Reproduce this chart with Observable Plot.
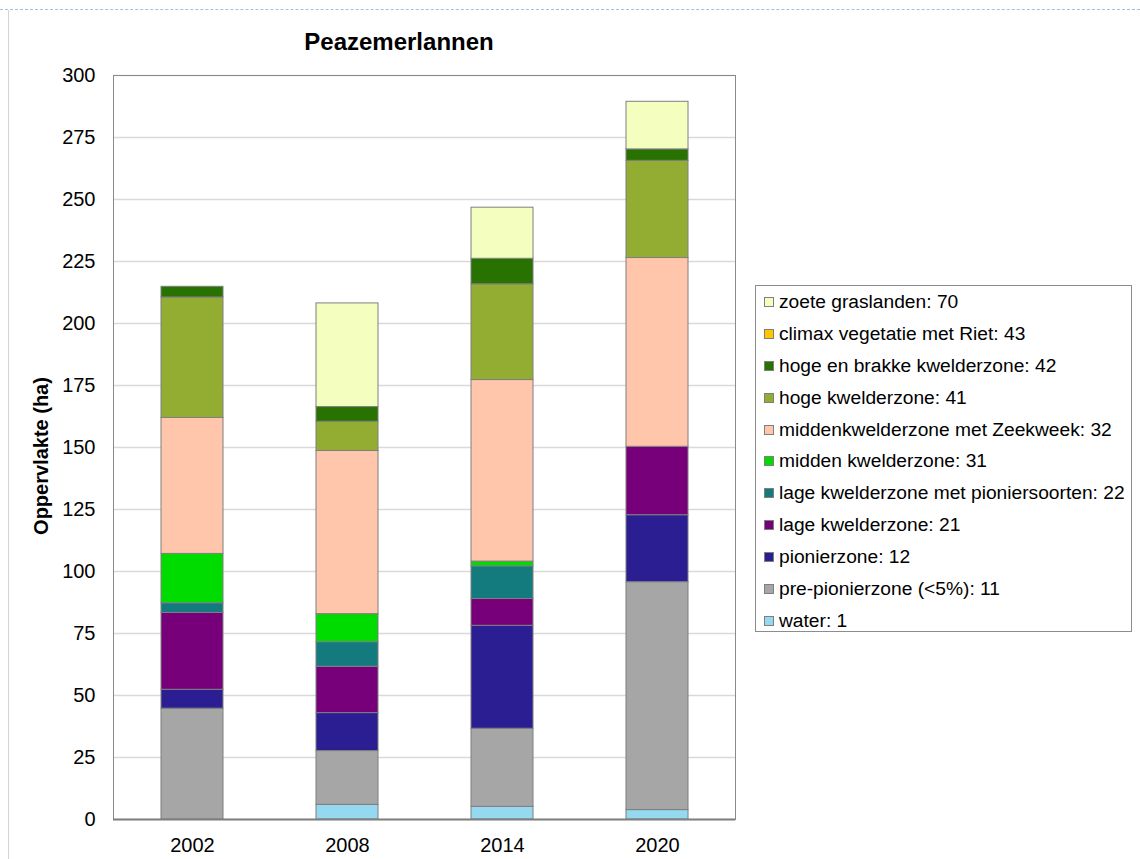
<!DOCTYPE html>
<html>
<head>
<meta charset="utf-8">
<script src="https://cdn.jsdelivr.net/npm/d3@7"></script>
<script src="https://cdn.jsdelivr.net/npm/@observablehq/plot@0.6"></script>
<style>
  body { margin: 0; background: #fff; font-family: "Liberation Sans", Arial, sans-serif; }
  #wrap { position: relative; width: 1140px; height: 859px; overflow: hidden; }
  #topline { position: absolute; left: 0; top: 9px; width: 1140px; border-top: 1px dashed #9cc6d6; }
  #leftline { position: absolute; left: 8px; top: 10px; height: 849px; border-left: 1px solid #d4d4d4; }
  #chart { position: absolute; left: 0; top: 0; }
  #title { position: absolute; left: 0; width: 798px; top: 28px; text-align: center; font-weight: bold; font-size: 24px; color: #000; }
  #ylabel { position: absolute; left: 41px; top: 456px; transform: translate(-50%, -50%) rotate(-90deg); font-weight: bold; font-size: 20px; white-space: nowrap; color: #000; }
  #legend { position: absolute; left: 755px; top: 285px; width: 377px; height: 347px; border: 1px solid #8c8c8c; box-sizing: border-box; }
  .row { height: 31.9px; line-height: 31.9px; font-size: 19.2px; white-space: nowrap; display: flex; align-items: center; padding-left: 8px; }
  .sw { width: 8px; height: 8px; border: 1px solid #7f7f7f; margin-right: 5px; flex: none; }
</style>
</head>
<body>
<div id="wrap">
  <div id="topline"></div>
  <div id="leftline"></div>
  <div id="chart"></div>
  <div id="title">Peazemerlannen</div>
  <div id="ylabel">Oppervlakte (ha)</div>
  <div id="legend"></div>
</div>
<script>
const years = ["2002", "2008", "2014", "2020"];
const categories = [
  "water: 1",
  "pre-pionierzone (<5%): 11",
  "pionierzone: 12",
  "lage kwelderzone: 21",
  "lage kwelderzone met pioniersoorten: 22",
  "midden kwelderzone: 31",
  "middenkwelderzone met Zeekweek: 32",
  "hoge kwelderzone: 41",
  "hoge en brakke kwelderzone: 42",
  "climax vegetatie met Riet: 43",
  "zoete graslanden: 70"
];
const colors = [
  "#95d9f1", "#a6a6a6", "#2a1e92", "#77007a", "#137b7e", "#00dc00",
  "#ffc6ac", "#93ad33", "#277200", "#ffc600", "#f4ffbf"
];
// values per category, per year (2002, 2008, 2014, 2020), in ha
const water        = [0,    5.9,  5.1,  3.8];
const prePionier   = [44.7, 21.7, 31.5, 91.9];
const pionier      = [7.6,  15.3, 41.5, 27.0];
const lage         = [31.0, 18.7, 10.8, 27.6];
const lagePionier  = [3.9,  9.9,  13.2, 0];
const midden       = [19.9, 11.3, 1.9,  0];
const zeekweek     = [54.8, 65.8, 73.2, 76.1];
const hoge         = [48.6, 11.8, 38.6, 39.2];
const hogeBrak     = [4.3,  5.9,  10.3, 4.6];
const climax       = [0,    0,    0,    0];
const zoete        = [0,    41.8, 20.6, 19.2];
const yTicks = [0, 25, 50, 75, 100, 125, 150, 175, 200, 225, 250, 275, 300];

const series = [water, prePionier, pionier, lage, lagePionier, midden, zeekweek, hoge, hogeBrak, climax, zoete];
const table = [];
years.forEach((yr, i) => {
  categories.forEach((c, k) => {
    const v = series[k][i];
    if (v > 0) table.push({ year: yr, cat: c, value: v });
  });
});

const chart = Plot.plot({
  width: 1140,
  height: 859,
  marginLeft: 113,
  marginRight: 405,
  marginTop: 75,
  marginBottom: 40,
  style: { fontFamily: "Liberation Sans, Arial, sans-serif", background: "transparent", color: "#000" },
  x: { domain: years, paddingInner: 0.6, paddingOuter: 0.3 },
  y: { domain: [0, 300] },
  color: { domain: categories, range: colors },
  marks: [
    Plot.gridY(yTicks, { stroke: "#d9d9d9", strokeOpacity: 1, strokeWidth: 1.5 }),
    Plot.frame({ stroke: "#8a8a8a" }),
    Plot.barY(table, { x: "year", y: "value", fill: "cat", stroke: "#7f7f7f", strokeWidth: 1, order: categories }),
    Plot.ruleY([0], { stroke: "#7f7f7f", strokeWidth: 2 }),
    Plot.axisY({ ticks: yTicks, tickSize: 0, tickPadding: 18, fontSize: 20, label: null }),
    Plot.axisX({ tickSize: 0, tickPadding: 18, fontSize: 20, label: null })
  ]
});
document.getElementById("chart").appendChild(chart);

const legend = document.getElementById("legend");
for (let k = categories.length - 1; k >= 0; k--) {
  const row = document.createElement("div");
  row.className = "row";
  const sw = document.createElement("span");
  sw.className = "sw";
  sw.style.background = colors[k];
  const t = document.createElement("span");
  t.textContent = categories[k];
  row.appendChild(sw);
  row.appendChild(t);
  legend.appendChild(row);
}
</script>
</body>
</html>
